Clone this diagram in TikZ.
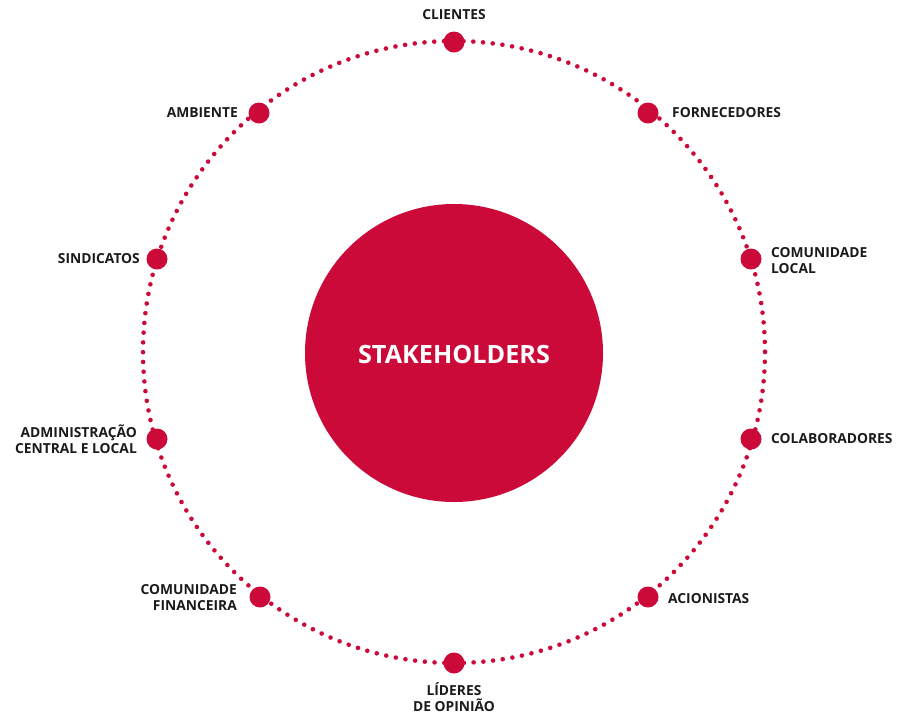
\documentclass[tikz,border=0pt]{standalone}
\usepackage{fontspec}
\setmainfont{Open Sans}
\definecolor{crim}{HTML}{CC0A3A}
\definecolor{ink}{HTML}{1A1A1A}
\begin{document}
\begin{tikzpicture}[x=1pt,y=-1pt,
  dot/.style={circle,fill=crim,minimum size=21pt,inner sep=0pt},
  lbl/.style={font=\fontsize{13.8}{16}\selectfont\bfseries,text=ink,inner sep=0pt,align=left},
  lblr/.style={lbl,align=right},
  lblc/.style={lbl,align=center}]
\useasboundingbox (0,0) rectangle (899,713);
\draw[crim,line width=4.6pt,line cap=round,dash pattern=on 0pt off 9.77pt] (454,352) circle [radius=311];
\node[circle,fill=crim,minimum size=298pt,inner sep=0pt] (hub) at (454,353) {};
\node[font=\fontsize{25.2}{29}\selectfont\bfseries,text=white] (title) at (454,354) {STAKEHOLDERS};
\node[dot] (d1) at (454,42) {};
\node[dot] (d2) at (648,113) {};
\node[dot] (d3) at (751,259) {};
\node[dot] (d4) at (751,439) {};
\node[dot] (d5) at (648,597) {};
\node[dot] (d6) at (454,663) {};
\node[dot] (d7) at (260,597) {};
\node[dot] (d8) at (157,439) {};
\node[dot] (d9) at (157,259) {};
\node[dot] (d10) at (259,113) {};
\node[lblc] (t1) at (454,15) {CLIENTES};
\node[lbl,anchor=west] (t2) at (672,113) {FORNECEDORES};
\node[lbl,anchor=west] (t3) at (771,261) {COMUNIDADE\\LOCAL};
\node[lbl,anchor=west] (t4) at (771,439) {COLABORADORES};
\node[lbl,anchor=west] (t5) at (668,599) {ACIONISTAS};
\node[lblc] (t6) at (454,697) {LÍDERES\\DE OPINIÃO};
\node[lblr,anchor=east] (t7) at (237,598) {COMUNIDADE\\FINANCEIRA};
\node[lblr,anchor=east] (t8) at (137,439) {ADMINISTRAÇÃO\\CENTRAL E LOCAL};
\node[lblr,anchor=east] (t9) at (140,259) {SINDICATOS};
\node[lblr,anchor=east] (t10) at (238,113) {AMBIENTE};
\end{tikzpicture}
\end{document}
